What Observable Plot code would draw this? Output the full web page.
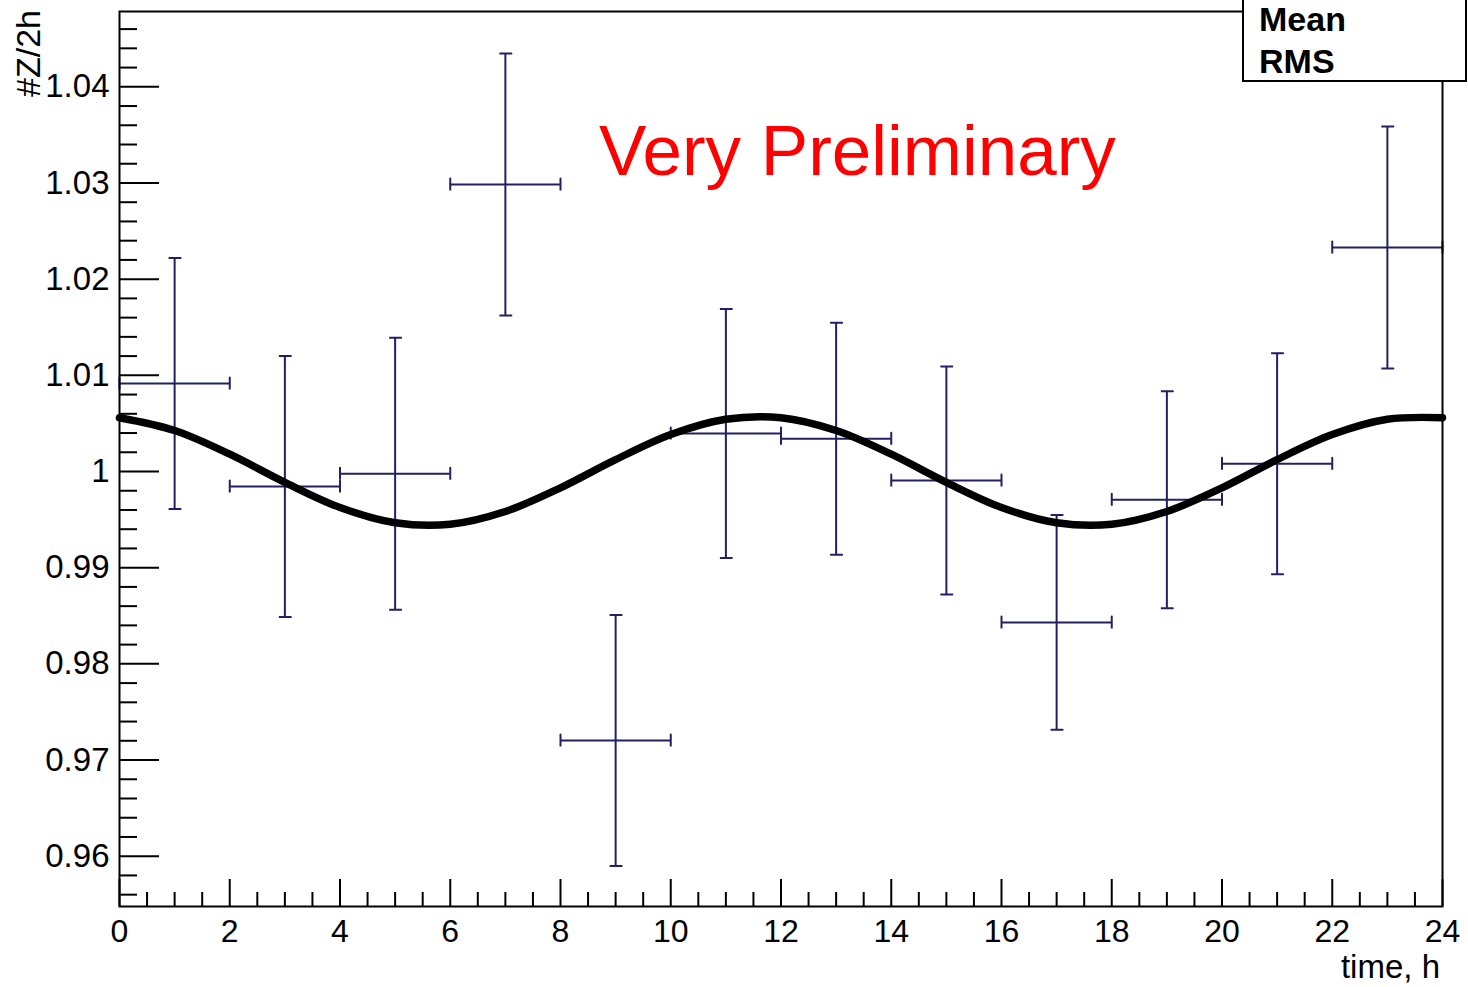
<!DOCTYPE html>
<html><head><meta charset="utf-8">
<script src="https://cdn.jsdelivr.net/npm/d3@7"></script>
<script src="https://cdn.jsdelivr.net/npm/@observablehq/plot@0.6"></script>
<style>
body{margin:0;background:#fff;}
#chart{width:1468px;height:987px;}
</style>
</head><body><div id="chart"></div>
<script>
// ---- data ----
const binCenters = [1, 3, 5, 7, 9, 11, 13, 15, 17, 19, 21, 23];
const binHalfWidth = 1;
const values = [1.00915, 0.99844, 0.99976, 1.02983, 0.97204, 1.00395, 1.00340, 0.99906, 0.98431, 0.99706, 1.00080, 1.02328];
const errors = [0.01304, 0.01356, 0.01414, 0.01362, 0.01305, 0.01294, 0.01206, 0.01185, 0.01117, 0.01128, 0.01149, 0.01258];
const fitHours = [0,1,2,3,4,5,6,7,8,9,10,11,12,13,14,15,16,17,18,19,20,21,22,23,24];
const fitValues = [1.00559,1.00426,1.00180,0.99887,0.99626,0.99467,0.99451,0.99584,0.99830,1.00123,1.00384,1.00543,1.00559,1.00426,1.00180,0.99887,0.99626,0.99467,0.99451,0.99584,0.99830,1.00123,1.00384,1.00543,1.00559];
const xMajorTicks = [0,2,4,6,8,10,12,14,16,18,20,22,24];
const yMajorTicks = [0.96,0.97,0.98,0.99,1.00,1.01,1.02,1.03,1.04];
const xTitle = "time, h";
const yTitle = "#Z/2h";
const statLabels = ["Mean", "RMS"];
const annotation = "Very Preliminary";

const xMinorTicks = d3.range(0, 24.001, 0.5).filter(v => Math.abs(v % 2) > 1e-6);
const yMinorTicks = d3.range(0.956, 1.0475, 0.002).filter(v => Math.abs(Math.round(v*100) - v*100) > 1e-6);

const bins = binCenters.map((c, i) => ({x: c, lo: c - binHalfWidth, hi: c + binHalfWidth, y: values[i], e: errors[i]}));
const fit = fitHours.map((h, i) => ({x: h, y: fitValues[i]}));
const barColor = "#202062";
const font = "'Liberation Sans', Arial, Helvetica, sans-serif";

const chart = Plot.plot({
  width: 1468, height: 987,
  marginLeft: 119, marginRight: 26, marginTop: 11, marginBottom: 81,
  x: {domain: [0, 24]},
  y: {domain: [0.95477, 1.04783]},
  style: {fontFamily: font, background: "white", color: "black"},
  marks: [
    Plot.axisY(yMinorTicks, {tickSize: -18, tickFormat: () => "", strokeWidth: 2, label: null}),
    Plot.axisY(yMajorTicks, {tickSize: -40, tickFormat: () => "", strokeWidth: 2, label: null}),
    Plot.axisY(yMajorTicks, {tickSize: 0, tickPadding: 10, fontSize: 33, label: null, tickFormat: d => String(+d.toFixed(2))}),
    Plot.axisX(xMinorTicks, {tickSize: -14, tickFormat: () => "", strokeWidth: 2, label: null}),
    Plot.axisX(xMajorTicks, {tickSize: -27, tickFormat: () => "", strokeWidth: 2, label: null}),
    Plot.axisX(xMajorTicks, {tickSize: 0, tickPadding: 13, fontSize: 32, label: null, tickFormat: d => String(d)}),
    // error bars
    Plot.ruleX(bins, {x: "x", y1: d => d.y - d.e, y2: d => d.y + d.e, stroke: barColor, strokeWidth: 2}),
    Plot.ruleY(bins, {y: "y", x1: "lo", x2: "hi", stroke: barColor, strokeWidth: 2}),
    Plot.vector(bins, {x: "x", y: d => d.y + d.e, length: 12, rotate: 90, anchor: "middle", shape: "spike", r: 0, stroke: barColor, fill: "none", strokeWidth: 2, strokeLinecap: "butt"}),
    Plot.vector(bins, {x: "x", y: d => d.y - d.e, length: 12, rotate: 90, anchor: "middle", shape: "spike", r: 0, stroke: barColor, fill: "none", strokeWidth: 2, strokeLinecap: "butt"}),
    Plot.vector(bins, {x: "lo", y: "y", length: 12, rotate: 0, anchor: "middle", shape: "spike", r: 0, stroke: barColor, fill: "none", strokeWidth: 2, strokeLinecap: "butt"}),
    Plot.vector(bins, {x: "hi", y: "y", length: 12, rotate: 0, anchor: "middle", shape: "spike", r: 0, stroke: barColor, fill: "none", strokeWidth: 2, strokeLinecap: "butt"}),
    // fit curve
    Plot.line(fit, {x: "x", y: "y", curve: "catmull-rom", stroke: "black", strokeWidth: 7.5}),
    Plot.frame({stroke: "black", strokeWidth: 2})
  ]
});

const svg = d3.select(chart);
// axis titles
svg.append("text").attr("x", 1440).attr("y", 978).attr("text-anchor", "end")
  .attr("font-family", font).attr("font-size", 33).attr("fill", "black").text(xTitle);
svg.append("text").attr("transform", "translate(40,10) rotate(-90)").attr("text-anchor", "end")
  .attr("font-family", font).attr("font-size", 34).attr("fill", "black").text(yTitle);
// annotation
svg.append("text").attr("x", 599).attr("y", 175).attr("text-anchor", "start").attr("font-family", font).attr("font-size", 71)
  .attr("fill", "#ff0000").text(annotation);
// stat box
svg.append("rect").attr("x", 1243).attr("y", -2).attr("width", 223).attr("height", 83)
  .attr("fill", "white").attr("stroke", "black").attr("stroke-width", 2);
statLabels.forEach((t, i) => {
  svg.append("text").attr("x", 1259).attr("y", 31 + i * 42).attr("text-anchor", "start").attr("font-family", font)
    .attr("font-size", 34).attr("font-weight", "bold").attr("fill", "black").text(t);
});

document.getElementById("chart").appendChild(chart);
</script>
</body></html>
